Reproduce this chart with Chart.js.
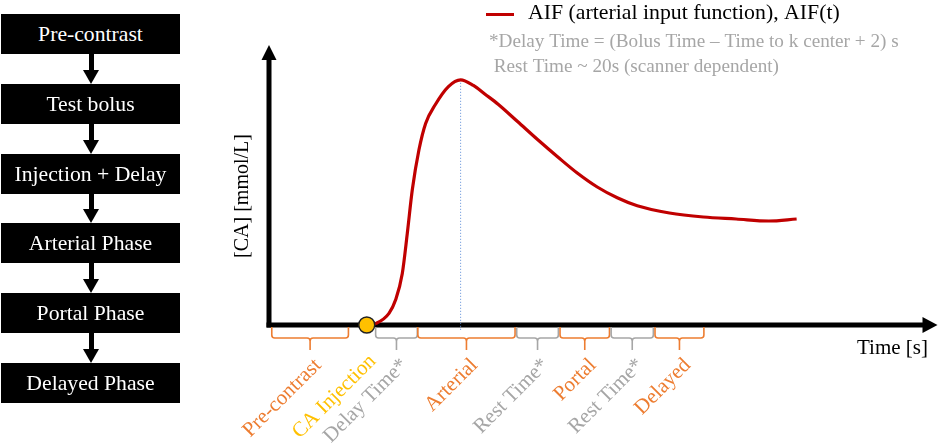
<!DOCTYPE html>
<html>
<head>
<meta charset="utf-8">
<title>AIF and contrast phases</title>
<script src="https://cdn.jsdelivr.net/npm/chart.js@4.4.0/dist/chart.umd.min.js"></script>
<style>
    html, body { margin: 0; padding: 0; background: #fff; }
    #wrap { position: relative; width: 945px; height: 446px; overflow: hidden; }
    #chartBox { position: absolute; left: 0; top: 0; width: 945px; height: 446px; }
    .step {
        position: absolute; left: 1px; width: 179px; height: 40px;
        background: #000; color: #fff;
        font: 21.7px "Liberation Serif", "Times New Roman", serif;
        line-height: 40px; text-align: center; white-space: nowrap;
    }
    .shaft { position: absolute; left: 88.5px; width: 5px; background: #000; }
    .head {
        position: absolute; left: 83px; width: 0; height: 0;
        border-left: 8px solid transparent; border-right: 8px solid transparent;
        border-top: 14px solid #000;
    }
</style>
</head>
<body>
<div id="wrap">
    <div id="chartBox"><canvas id="aifChart"></canvas></div>
    <div id="flow"></div>
</div>
<script>
// ---------- data ----------
// AIF curve, time in s, concentration in mmol/L
const timeS   = [17.6, 19.3, 21.6, 22.8, 24.0, 24.9, 25.8, 27.0, 28.2, 29.9, 32.3, 34.5, 36.8, 38.9, 41.25, 44.8, 48.4, 52.0, 55.5, 59.1, 62.7, 66.3, 72.1, 78.2, 84.1, 90.0, 95.0];
const aifConc = [0.00, 0.04, 0.29, 0.63, 1.29, 2.29, 3.38, 4.38, 5.04, 5.50, 5.96, 6.13, 5.99, 5.77, 5.52,  5.08, 4.63, 4.20, 3.80, 3.45, 3.18, 2.98, 2.80, 2.70, 2.65, 2.60, 2.65];

const injectionTime = 17.6;
const peakTime = 34.5;
const peakConc = 6.13;

// acquisition segments along the time axis
const phaseNames = ['Pre-contrast', 'Delay Time*', 'Arterial', 'Rest Time*', 'Portal', 'Rest Time*', 'Delayed'];
const phaseStart = [0.5, 19.2, 26.8, 44.6, 52.4, 61.6, 69.5];
const phaseEnd   = [14.3, 26.7, 44.3, 52.1, 61.3, 69.2, 78.3];
const phaseKind  = ['scan', 'wait', 'scan', 'wait', 'scan', 'wait', 'scan'];

// protocol steps (left flowchart)
const stepLabels = ['Pre-contrast', 'Test bolus', 'Injection + Delay', 'Arterial Phase', 'Portal Phase', 'Delayed Phase'];

const noteLines = [
    '*Delay Time = (Bolus Time \u2013 Time to k center + 2) s',
    ' Rest Time ~ 20s (scanner dependent)'
];

// ---------- colours ----------
const RED = '#c00000';
const ORANGE = '#ed7d31';
const GREY = '#a6a6a6';
const GOLD = '#ffc000';
const SERIF = '"Liberation Serif", "Times New Roman", serif';

// ---------- flowchart ----------
const flow = document.getElementById('flow');
const boxTops = stepLabels.map((s, i) => 14 + Math.round(i * 69.8));
stepLabels.forEach(function (label, i) {
    let box = document.createElement('div');
    box.className = 'step';
    box.style.top = boxTops[i] + 'px';
    box.textContent = label;
    flow.appendChild(box);
    if (i < stepLabels.length - 1) {
        let y0 = boxTops[i] + 40, y1 = boxTops[i + 1];
        let shaft = document.createElement('div');
        shaft.className = 'shaft';
        shaft.style.top = y0 + 'px';
        shaft.style.height = (y1 - y0 - 12) + 'px';
        flow.appendChild(shaft);
        let head = document.createElement('div');
        head.className = 'head';
        head.style.top = (y1 - 14) + 'px';
        flow.appendChild(head);
    }
});

// ---------- drawing helpers ----------
function drawBrace(ctx, x0, x1, yTop, color) {
    const yMid = yTop + 11, tip = yTop + 23, r = 3, cx = (x0 + x1) / 2;
    ctx.beginPath();
    ctx.moveTo(x0, yTop);
    ctx.lineTo(x0, yMid - r);
    ctx.quadraticCurveTo(x0, yMid, x0 + r, yMid);
    ctx.lineTo(cx - r, yMid);
    ctx.quadraticCurveTo(cx, yMid, cx, yMid + r);
    ctx.lineTo(cx, tip);
    ctx.moveTo(cx, yMid + r);
    ctx.quadraticCurveTo(cx, yMid, cx + r, yMid);
    ctx.lineTo(x1 - r, yMid);
    ctx.quadraticCurveTo(x1, yMid, x1, yMid - r);
    ctx.lineTo(x1, yTop);
    ctx.strokeStyle = color;
    ctx.lineWidth = 1.6;
    ctx.stroke();
}

function slantLabel(ctx, text, x, y, color) {
    ctx.save();
    ctx.translate(x, y);
    ctx.rotate(-Math.PI / 4);
    ctx.font = '21px ' + SERIF;
    ctx.fillStyle = color;
    ctx.textAlign = 'right';
    ctx.textBaseline = 'alphabetic';
    ctx.fillText(text, 0, 0);
    ctx.restore();
}

// axes with arrow heads, drawn under the curve
const axesPlugin = {
    id: 'axesArrows',
    beforeDatasetsDraw(chart) {
        const ctx = chart.ctx, a = chart.chartArea;
        ctx.save();
        ctx.fillStyle = '#000';
        ctx.fillRect(a.left - 2.5, a.top + 12, 5, a.bottom - a.top - 9.5);
        ctx.fillRect(a.left - 2.5, a.bottom - 2.5, a.right - a.left - 10, 5);
        ctx.beginPath();
        ctx.moveTo(a.left, a.top);
        ctx.lineTo(a.left + 7.5, a.top + 15);
        ctx.lineTo(a.left - 7.5, a.top + 15);
        ctx.closePath();
        ctx.fill();
        ctx.beginPath();
        ctx.moveTo(a.right + 2, a.bottom);
        ctx.lineTo(a.right - 13, a.bottom - 8);
        ctx.lineTo(a.right - 13, a.bottom + 8);
        ctx.closePath();
        ctx.fill();
        ctx.restore();
    },
    afterDraw(chart) {
        const ctx = chart.ctx, a = chart.chartArea, xs = chart.scales.x;
        ctx.save();
        // phase braces + labels
        const braceTop = a.bottom + 2;
        phaseNames.forEach(function (name, i) {
            const x0 = xs.getPixelForValue(phaseStart[i]);
            const x1 = xs.getPixelForValue(phaseEnd[i]);
            const color = phaseKind[i] === 'scan' ? ORANGE : GREY;
            drawBrace(ctx, x0, x1, braceTop, color);
            slantLabel(ctx, name, (x0 + x1) / 2 + 12, a.bottom + 41, color);
            if (i === 0) {
                slantLabel(ctx, 'CA Injection', xs.getPixelForValue(injectionTime) + 10, a.bottom + 37, GOLD);
            }
        });

        // axis titles
        ctx.fillStyle = '#000';
        ctx.font = '21px ' + SERIF;
        ctx.textAlign = 'left';
        ctx.textBaseline = 'alphabetic';
        ctx.fillText('Time [s]', 857, a.bottom + 29);
        ctx.save();
        ctx.translate(a.left - 26, 196);
        ctx.rotate(-Math.PI / 2);
        ctx.font = '20px ' + SERIF;
        ctx.textAlign = 'center';
        ctx.textBaseline = 'middle';
        ctx.fillText('[CA] [mmol/L]', 0, 0);
        ctx.restore();

        // legend
        ctx.strokeStyle = RED;
        ctx.lineWidth = 3;
        ctx.beginPath();
        ctx.moveTo(486, 14.5);
        ctx.lineTo(514, 14.5);
        ctx.stroke();
        ctx.fillStyle = '#000';
        ctx.font = '21.8px ' + SERIF;
        ctx.fillText(chart.data.datasets[0].label, 528, 19);

        // notes
        ctx.fillStyle = GREY;
        ctx.font = '19.2px ' + SERIF;
        ctx.fillText(noteLines[0], 489, 47);
        ctx.fillText(noteLines[1], 489, 72);
        ctx.restore();
    }
};

// ---------- chart ----------
const ctx = document.getElementById('aifChart').getContext('2d');
new Chart(ctx, {
    type: 'line',
    data: {
        datasets: [{
            label: 'AIF (arterial input function), AIF(t)',
            data: timeS.map((t, i) => ({ x: t, y: aifConc[i] })),
            borderColor: RED,
            borderWidth: 3.2,
            pointRadius: 0,
            cubicInterpolationMode: 'monotone',
            fill: false,
            clip: false,
            order: 2
        }, {
            label: 'peak',
            data: [{ x: peakTime, y: -0.12 }, { x: peakTime, y: peakConc }],
            borderColor: '#5b8bd6',
            borderWidth: 1,
            borderDash: [1, 2],
            pointRadius: 0,
            clip: false,
            order: 3
        }, {
            type: 'scatter',
            label: 'CA Injection',
            data: [{ x: injectionTime, y: 0 }],
            pointRadius: 8,
            pointBackgroundColor: GOLD,
            pointBorderColor: '#222',
            pointBorderWidth: 1.5,
            clip: false,
            order: 1
        }]
    },
    options: {
        responsive: true,
        maintainAspectRatio: false,
        animation: false,
        devicePixelRatio: 1,
        layout: { padding: { left: 269, right: 4, top: 45, bottom: 121 } },
        scales: {
            x: { type: 'linear', min: 0, max: 120, display: false },
            y: { min: 0, max: 7, display: false }
        },
        plugins: {
            legend: { display: false },
            tooltip: { enabled: false }
        }
    },
    plugins: [axesPlugin]
});
</script>
</body>
</html>
